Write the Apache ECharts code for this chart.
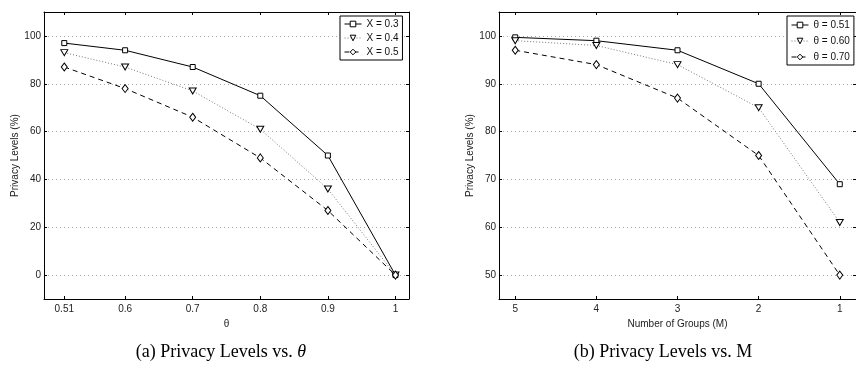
<!DOCTYPE html>
<html>
<head>
<meta charset="utf-8">
<script src="https://cdn.jsdelivr.net/npm/echarts@6/dist/echarts.min.js"></script>
<style>
  html, body { margin: 0; padding: 0; background: #fff; }
  #chart { width: 856px; height: 374px; }
</style>
</head>
<body>
<div id="chart"></div>
<script>
// (a) privacy vs theta
const thetaValues = [0.51, 0.6, 0.7, 0.8, 0.9, 1];
const leftYTicks = [0, 20, 40, 60, 80, 100];
const x03 = [97, 94, 87, 75, 50, 0];
const x04 = [93, 87, 77, 61, 36, 0];
const x05 = [87, 78, 66, 49, 27, 0];
const leftNames = ["X = 0.3", "X = 0.4", "X = 0.5"];

// (b) privacy vs number of groups
const groupValues = [5, 4, 3, 2, 1];
const rightYTicks = [50, 60, 70, 80, 90, 100];
const t051 = [99.7, 99, 97, 90, 69];
const t060 = [99, 98, 94, 85, 61];
const t070 = [97, 94, 87, 75, 50];
const rightNames = ["\u03b8 = 0.51", "\u03b8 = 0.60", "\u03b8 = 0.70"];

const FONT = "Liberation Sans";
const SERIF = "Liberation Serif";

const zip = (xs, ys) => xs.map((x, i) => [x, ys[i]]);

// marker + line look for the three curves
const looks = [
  { symbol: "rect", rotate: 0, size: 5, line: { color: "#000", width: 1, type: "solid" } },
  { symbol: "triangle", rotate: 180, size: [7, 6], line: { color: "#777", width: 1, type: [1, 2] } },
  { symbol: "diamond", rotate: 0, size: [6, 8], line: { color: "#000", width: 1, type: [5, 4] } },
];

function makeSeries(name, data, look, gridIdx) {
  return {
    name: name,
    type: "line",
    xAxisIndex: gridIdx * 2,
    yAxisIndex: gridIdx * 2,
    data: data,
    symbol: look.symbol,
    symbolRotate: look.rotate,
    symbolSize: look.size,
    showAllSymbol: true,
    lineStyle: look.line,
    itemStyle: { color: "#fff", borderColor: "#000", borderWidth: 1 },
    emphasis: { disabled: true },
    animation: false,
    z: 3,
  };
}

function xAxes(gridIdx, min, max, ticks, inverse, name) {
  const base = {
    type: "value",
    gridIndex: gridIdx,
    min: min,
    max: max,
    inverse: inverse,
    axisLine: { show: true, onZero: false, lineStyle: { color: "#000", width: 1 } },
    axisTick: { show: true, inside: true, length: 3, customValues: ticks, lineStyle: { color: "#000" } },
    splitLine: { show: false },
  };
  return [
    Object.assign({}, base, {
      position: "bottom",
      name: name,
      nameLocation: "middle",
      nameGap: 15,
      nameTextStyle: { fontFamily: FONT, fontSize: 10, color: "#222" },
      axisLabel: { show: true, customValues: ticks, margin: 5, fontFamily: FONT, fontSize: 10, color: "#222" },
    }),
    Object.assign({}, base, { position: "top", axisLabel: { show: false } }),
  ];
}

function yAxes(gridIdx, min, max, ticks) {
  const base = {
    type: "value",
    gridIndex: gridIdx,
    min: min,
    max: max,
    axisLine: { show: true, onZero: false, lineStyle: { color: "#000", width: 1 } },
    axisTick: { show: true, inside: true, length: 3, customValues: ticks, lineStyle: { color: "#000" } },
  };
  return [
    Object.assign({}, base, {
      position: "left",
      name: "Privacy Levels (%)",
      nameLocation: "middle",
      nameGap: 22,
      nameTextStyle: { fontFamily: FONT, fontSize: 10, color: "#222" },
      axisLabel: { show: true, customValues: ticks, margin: 3, fontFamily: FONT, fontSize: 10, color: "#222" },
      splitLine: { show: true, lineStyle: { color: "#aaa", width: 1, type: [1, 3] } },
    }),
    Object.assign({}, base, { position: "right", axisLabel: { show: false }, splitLine: { show: false } }),
  ];
}

function legend(names, left, top, gap, padding) {
  return {
    data: names,
    orient: "vertical",
    left: left,
    top: top,
    itemWidth: 17,
    itemHeight: 7,
    itemGap: gap,
    padding: padding,
    backgroundColor: "#fff",
    borderColor: "#000",
    borderWidth: 1,
    selectedMode: false,
    itemStyle: { borderWidth: 1 },
    lineStyle: { width: 1 },
    textStyle: { fontFamily: FONT, fontSize: 10, color: "#111" },
  };
}

const chart = echarts.init(document.getElementById("chart"));

chart.setOption({
  animation: false,
  backgroundColor: "#fff",
  grid: [
    { left: 44, top: 12, width: 365, height: 287 },
    { left: 499, top: 12, width: 365, height: 287 },
  ],
  xAxis: [
    ...xAxes(0, 0.48, 1.02, thetaValues, false, "\u03b8"),
    ...xAxes(1, 0.8, 5.2, groupValues, true, "Number of Groups (M)"),
  ],
  yAxis: [
    ...yAxes(0, -10, 110, leftYTicks),
    ...yAxes(1, 45, 105, rightYTicks),
  ],
  legend: [
    legend(leftNames, 340, 16, 4, [3, 4, 3, 4]),
    legend(rightNames, 787, 16, 6, [4, 4, 3, 4]),
  ],
  title: [
    {
      text: "{n|(a) Privacy Levels vs. }{i|\u03b8}",
      left: 216,
      top: 338,
      textAlign: "center",
      textStyle: {
        fontWeight: "normal",
        rich: {
          n: { fontFamily: SERIF, fontSize: 18, fontWeight: "normal", color: "#000" },
          i: { fontFamily: SERIF, fontSize: 18, fontWeight: "normal", fontStyle: "italic", color: "#000" },
        },
      },
    },
    {
      text: "(b) Privacy Levels vs. M",
      left: 658,
      top: 338,
      textAlign: "center",
      textStyle: { fontFamily: SERIF, fontSize: 18, fontWeight: "normal", color: "#000" },
    },
  ],
  series: [
    makeSeries(leftNames[0], zip(thetaValues, x03), looks[0], 0),
    makeSeries(leftNames[1], zip(thetaValues, x04), looks[1], 0),
    makeSeries(leftNames[2], zip(thetaValues, x05), looks[2], 0),
    makeSeries(rightNames[0], zip(groupValues, t051), looks[0], 1),
    makeSeries(rightNames[1], zip(groupValues, t060), looks[1], 1),
    makeSeries(rightNames[2], zip(groupValues, t070), looks[2], 1),
  ],
});

window.addEventListener("resize", () => chart.resize());
</script>
</body>
</html>
